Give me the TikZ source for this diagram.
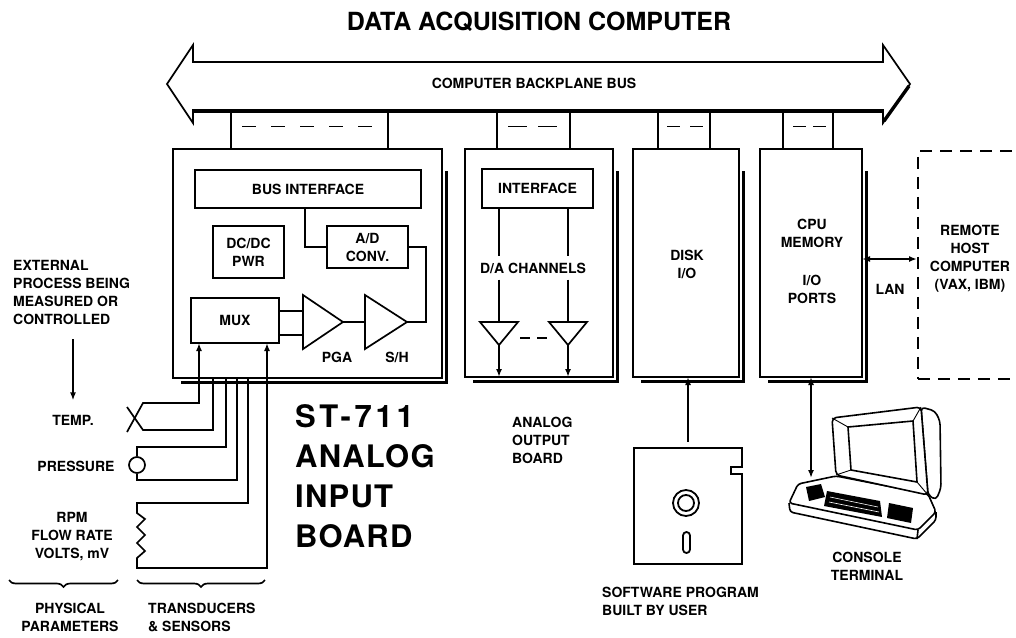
\documentclass[tikz,border=0pt]{standalone}
\usepackage{fontspec}
\setmainfont{TeX Gyre Heros}
\newfontfamily\wideheros[LetterSpace=12]{TeX Gyre Heros}
\newfontfamily\boardheros[LetterSpace=4]{TeX Gyre Heros}
\usetikzlibrary{arrows.meta,decorations.pathreplacing}

\newcommand{\lblfont}{\bfseries\fontsize{14}{18}\selectfont}
% thick shadow along the right and bottom edge of a board
\newcommand{\boardshadow}[1]{%
  \draw[line width=3pt] ([shift={(4pt,-22pt)}]#1.north east) |- ([shift={(8pt,-4pt)}]#1.south west);}

\begin{document}
\begin{tikzpicture}[x=1pt,y=-1pt,>={Latex[length=8pt,width=6pt]},
  board/.style={draw,line width=1.9pt,anchor=north west,inner sep=0pt,outer sep=0pt},
  block/.style={draw,line width=1.7pt,inner sep=0pt,outer sep=0pt,font=\lblfont,align=center},
  slot/.style={inner sep=0pt,outer sep=0pt,minimum height=39pt},
  lbl/.style={inner sep=0pt,font=\lblfont,align=center},
  wire/.style={line width=1.7pt},
  amp/.style={line width=1.7pt,line join=miter}]

  \fill[white] (0,0) rectangle (1016,637);
  \useasboundingbox (0,0) rectangle (1016,637);

  \node[font=\bfseries\fontsize{25}{30}\selectfont] (title) at (539,22) {DATA ACQUISITION COMPUTER};

  % backplane bus
  \draw[line width=1.7pt,line join=miter] (167,84) -- (193,45) -- (193,62) -- (883,62) -- (883,45)
    -- (910,84) -- (883,123) -- (883,110) -- (193,110) -- (193,123) -- cycle;
  \draw[line width=3.4pt] (193,111) -- (883,111);
  \draw[line width=3.4pt] (909,86) -- (884,121);
  \node[lbl] (bus) at (534,83) {COMPUTER BACKPLANE BUS};

  % boards
  \node[board,minimum width=269pt,minimum height=229pt] (ain) at (173,149) {};
  \node[board,minimum width=148pt,minimum height=228pt] (aout) at (465,149) {};
  \node[board,minimum width=106pt,minimum height=228pt] (dio) at (633,149) {};
  \node[board,minimum width=102pt,minimum height=228pt] (cpu) at (760,149) {};
  \boardshadow{ain}
  \boardshadow{aout}
  \boardshadow{dio}
  \boardshadow{cpu}

  % bus slots
  \node[slot,minimum width=157pt] (ainslot) at (309.5,129.5) {};
  \node[slot,minimum width=73pt] (aoutslot) at (533.5,129.5) {};
  \node[slot,minimum width=52pt] (dioslot) at (684,129.5) {};
  \node[slot,minimum width=50pt] (cpuslot) at (808,129.5) {};
  \draw[wire] (ainslot.north west) -- (ainslot.south west) (ainslot.north east) -- (ainslot.south east);
  \draw[wire] (aoutslot.north west) -- (aoutslot.south west) (aoutslot.north east) -- (aoutslot.south east);
  \draw[wire] (dioslot.north west) -- (dioslot.south west) (dioslot.north east) -- (dioslot.south east);
  \draw[wire] (cpuslot.north west) -- (cpuslot.south west) (cpuslot.north east) -- (cpuslot.south east);
  \draw[wire,dash pattern=on 14pt off 15pt] ([shift={(11pt,3pt)}]ainslot.west) -- ([shift={(-14pt,3pt)}]ainslot.east);
  \draw[wire,dash pattern=on 19pt off 11pt] ([shift={(11pt,3pt)}]aoutslot.west) -- ([shift={(-13pt,3pt)}]aoutslot.east);
  \draw[wire,dash pattern=on 13pt off 10pt] ([shift={(9pt,3pt)}]dioslot.west) -- ([shift={(-7pt,3pt)}]dioslot.east);
  \draw[wire,dash pattern=on 13pt off 7pt] ([shift={(10pt,3pt)}]cpuslot.west) -- ([shift={(-7pt,3pt)}]cpuslot.east);

  % analog input board
  \node[block,minimum width=226pt,minimum height=38pt] (businf) at (308,189) {BUS INTERFACE};
  \node[block,minimum width=71pt,minimum height=52pt] (dcdc) at (248.5,252) {DC/DC\\PWR};
  \node[block,minimum width=81pt,minimum height=42pt] (adc) at (367.5,247) {A/D\\CONV.};
  \node[block,minimum width=88pt,minimum height=45pt] (mux) at (235,320.5) {MUX};

  \coordinate (pgaA) at (303,311);
  \coordinate (pgaB) at (303,335);
  \coordinate (pgaout) at (343,322);
  \coordinate (shin) at (365,322);
  \coordinate (shout) at (407,322);
  \draw[amp] (303,295) -- (pgaout) -- (303,349) -- cycle;
  \draw[amp] (365,295) -- (shout) -- (365,349) -- cycle;
  \node[lbl] (pgalbl) at (337,357) {PGA};
  \node[lbl] (shlbl) at (397,357) {S/H};

  \draw[wire] (mux.east |- pgaA) -- (pgaA);
  \draw[wire] (mux.east |- pgaB) -- (pgaB);
  \draw[wire] (pgaout) -- (shin);
  \draw[wire] (shout) -- ++(19,0) |- (adc.east);
  \draw[wire] ([xshift=-3pt]businf.south) |- (adc.west);

  % analog output board
  \node[block,minimum width=111pt,minimum height=39pt] (iface) at (537.5,188.5) {INTERFACE};
  \node[lbl,minimum height=23pt] (dalbl) at (533,268) {D/A CHANNELS};
  \coordinate (da1) at (499,322);
  \coordinate (da2) at (568,322);
  \coordinate (da1o) at (499,345);
  \coordinate (da2o) at (568,345);
  \draw[amp] (480,322) -- (518,322) -- (da1o) -- cycle;
  \draw[amp] (549,322) -- (587,322) -- (da2o) -- cycle;
  \draw[wire] (iface.south -| da1) -- (dalbl.north -| da1) (dalbl.south -| da1) -- (da1);
  \draw[wire] (iface.south -| da2) -- (dalbl.north -| da2) (dalbl.south -| da2) -- (da2);
  \draw[wire,->] (da1o) -- (da1o |- aout.south);
  \draw[wire,->] (da2o) -- (da2o |- aout.south);
  \draw[wire,dash pattern=on 10pt off 7pt] (520,338) -- (548,338);

  % disk and cpu boards
  \node[lbl] (disklbl) at (687,264) {DISK\\I/O};
  \node[lbl] (cpulbl) at (812,233) {CPU\\MEMORY};
  \node[lbl] (portlbl) at (812,289) {I/O\\PORTS};

  % remote host
  \node[draw,line width=1.8pt,dash pattern=on 12pt off 8pt,anchor=north west,inner sep=0pt,
    minimum width=113pt,minimum height=228pt] (remote) at (917,150) {};
  \node[lbl] (remotelbl) at (970,259) {REMOTE\\HOST\\COMPUTER\\(VAX, IBM)};
  \coordinate (lan) at ([yshift=4pt]cpu.east);
  \draw[wire,<->] (lan) -- (lan -| remote.west);
  \node[lbl] (lanlbl) at (890,289) {LAN};

  % board titles
  \node[anchor=west,inner sep=0pt,align=left,font=\bfseries\fontsize{31}{40}\selectfont] (ainlbl) at (295,476)
    {{\wideheros ST-711}\\{\boardheros ANALOG}\\{\boardheros INPUT}\\{\boardheros BOARD}};
  \node[lbl,align=left,anchor=west] (aoutlbl) at (512,440) {ANALOG\\OUTPUT\\BOARD};

  % sensors
  \node[lbl,align=left,anchor=west] (ext) at (13,292) {EXTERNAL\\PROCESS BEING\\MEASURED OR\\CONTROLLED};
  \node[lbl] (temp) at (73,420) {TEMP.};
  \node[lbl] (pres) at (76,466) {PRESSURE};
  \node[lbl] (rpm) at (72,537) {RPM\\FLOW RATE\\VOLTS, mV};
  \draw[wire,->] (ext.south -| temp.north) ++(0,15) -- ++(0,61);

  \coordinate (p1) at (199,378);
  \coordinate (p2) at (213,378);
  \coordinate (p3) at (226,378);
  \coordinate (p4) at (237,378);
  \coordinate (p5) at (248,378);
  \coordinate (p6) at (267,378);
  \coordinate (tcA) at (143,403);
  \coordinate (tcB) at (143,430);
  \draw[wire,->] (127,432) -- (tcA) -| (p1 |- mux.south);
  \draw[wire] (127,407) -- (tcB) -| (p2);

  \node[circle,draw,line width=1.7pt,minimum size=16pt,inner sep=0pt] (press) at (137,465) {};
  \draw[wire] (press.north) -- ++(0,-9) -| (p3);
  \draw[wire] (press.south) -- ++(0,6) -| (p4);

  \coordinate (rtop) at (137,503);
  \draw[wire,->] (p5) |- (rtop) -- ++(0,10) -- ++(8,6) -- ++(-8,8) -- ++(8,8) -- ++(-8,8)
    -- ++(8,8) -- ++(-8,7) -- ++(0,10) -| (p6 |- mux.south);

  \draw[wire,decorate,decoration={brace,mirror,amplitude=7pt}] (9,580) -- (118,580);
  \draw[wire,decorate,decoration={brace,mirror,amplitude=7pt}] (137,580) -- (265,580);
  \node[lbl] (phys) at (70,617) {PHYSICAL\\PARAMETERS};
  \node[lbl,align=left,anchor=west] (trans) at (148,617) {TRANSDUCERS\\\& SENSORS};

  % floppy disk
  \node[draw,line width=2.4pt,minimum width=108pt,minimum height=116pt,inner sep=0pt] (floppy) at (688,506) {};
  \fill[white] (739,467) rectangle (745,474);
  \draw[line width=1.8pt] (743,467) -- (731,467) -- (731,474) -- (743,474);
  \draw[line width=1.8pt] (686,503) circle (13pt);
  \draw[line width=1.8pt] (686,503) circle (8pt);
  \draw[line width=1.8pt,rounded corners=3.5pt] (683,532) rectangle (690,553);
  \draw[wire,->] ([yshift=5pt]floppy.north) -- (floppy.north |- dio.south);
  \node[lbl,align=left,anchor=west] (softlbl) at (602,601) {SOFTWARE PROGRAM\\BUILT BY USER};

  % console terminal
  \coordinate (term) at (811,478);
  \draw[wire,<->] (cpu.south) -- (term);
  \begin{scope}[line width=1.6pt,line join=round]
    \draw[fill=white,rounded corners=3pt] (798,484) -- (836,476) -- (928,494) -- (936,512) -- (918,530) -- (789,503) -- cycle;
    \draw[rounded corners=3pt] (789,503) -- (790,512) -- (917,539) -- (936,520) -- (936,512);
    \draw (918,530) -- (917,539);
    \fill (806,487) -- (821,484) -- (825,497) -- (809,501) -- cycle;
    \fill (827,491) -- (880,501) -- (882,517) -- (824,506) -- cycle;
    \fill (889,503) -- (913,508) -- (911,523) -- (887,518) -- cycle;
    \draw[white,line width=0.6pt] (830,497) -- (878,507) (829,502) -- (879,512);
    \draw[fill=white,rounded corners=4pt] (921,407) -- (935,411) -- (940,421) -- (941,488) -- (936,500) -- (928,495) -- cycle;
    \draw[fill=white,rounded corners=4pt] (832,418) -- (921,407) -- (928,495) -- (836,475) -- cycle;
    \draw[fill=white] (848,427) -- (913,421) -- (917,482) -- (851,470) -- cycle;
    \draw[line width=0.9pt] (832,418) -- (848,427) (921,407) -- (913,421) (928,495) -- (917,482) (836,475) -- (851,470);
  \end{scope}
  \node[lbl] (termlbl) at (867,566) {CONSOLE\\TERMINAL};
\end{tikzpicture}
\end{document}
